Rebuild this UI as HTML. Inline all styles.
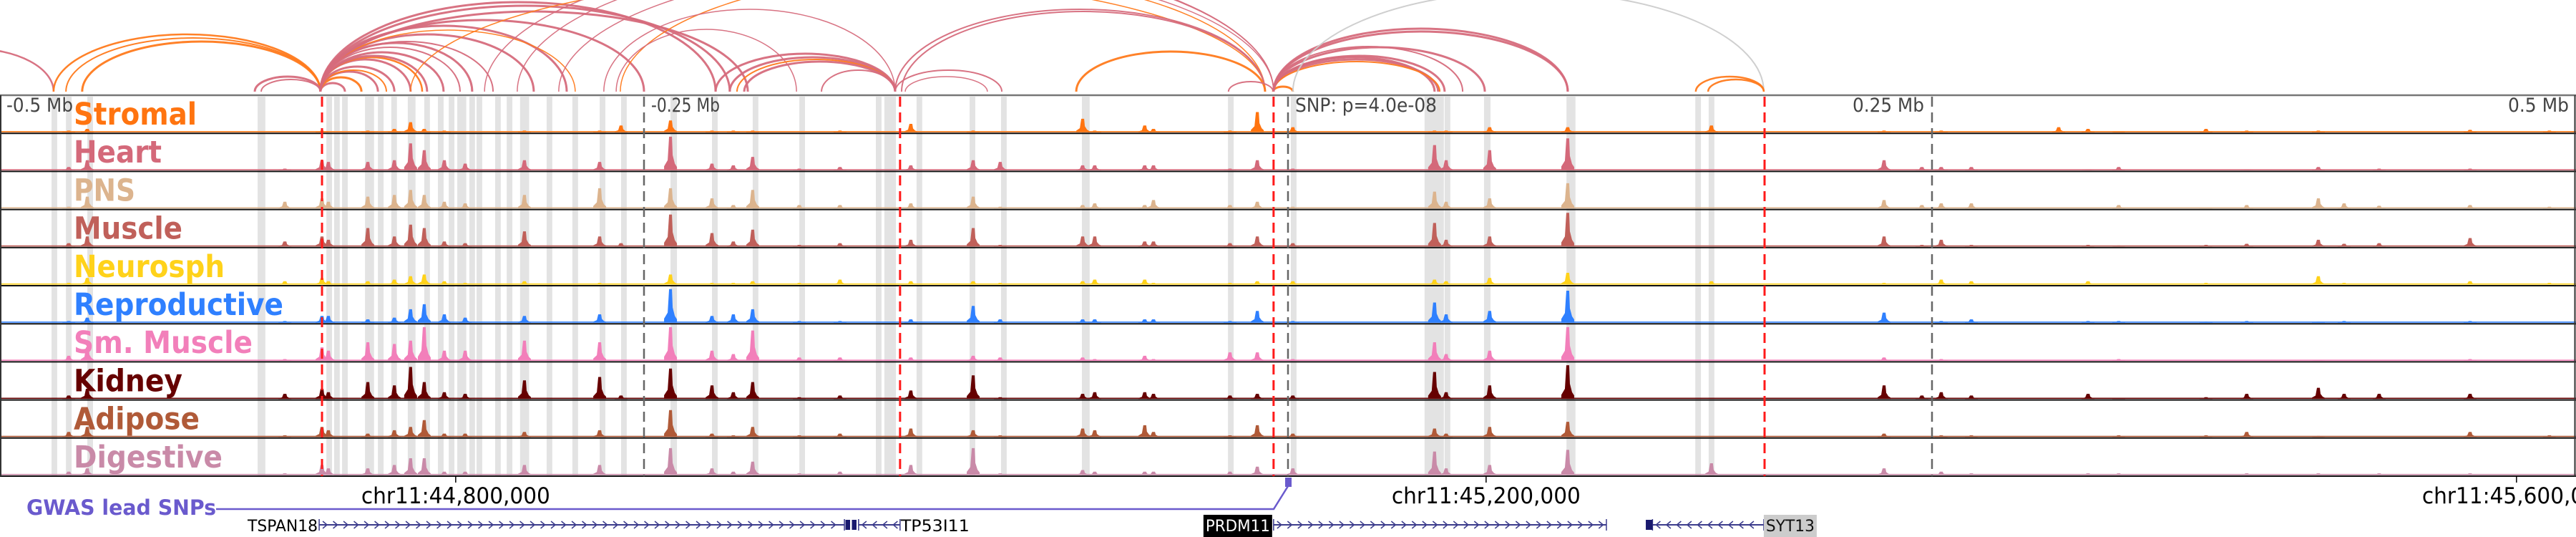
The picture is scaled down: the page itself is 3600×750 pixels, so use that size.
<!DOCTYPE html>
<html><head><meta charset="utf-8">
<style>
html,body{margin:0;padding:0;background:#fff;}
svg{display:block;}
.cond{font-family:"DejaVu Sans Condensed","DejaVu Sans","Liberation Sans",sans-serif;font-stretch:condensed;}
</style></head>
<body>
<svg id="fig" width="3600" height="750" viewBox="0 0 3600 750" xmlns="http://www.w3.org/2000/svg">
  <g id="arcs"></g>
  <g id="bands"></g>
  <g id="tracks"></g>
  <g id="vlines"></g>
  <g id="labels"></g>
  <g id="axis"></g>
  <g id="genes"></g>
</svg>
<script>
// ---------- data ----------
const trackNames = ["Stromal","Heart","PNS","Muscle","Neurosph","Reproductive","Sm. Muscle","Kidney","Adipose","Digestive"];
const trackColors = ["#ff7410","#d4697a","#dcb48e","#c0605a","#ffd21a","#2f80ff","#f27fba","#660000","#b05a38","#c98aa8"];
const labelWidths = [172,123,86,152,211,293,250,152,176,208];

// peak positions (kb from window start; window = 1 Mb, lead SNP at 500 kb)
const peakKb = [26.7,33.9,110.6,125,127.5,142.8,153.1,159.4,164.7,172.5,180.6,203.6,232.8,241.1,260.3,276.4,284.7,292.2,310.3,326.1,353.6,377.8,388.3,420.3,425,444.4,447.8,477.5,488.1,501.9,556.9,561.4,578.3,608.6,664.4,731.4,746.1,753.6,765.3,799.2,810.6,822.5,856.4,872.2,900,910,923.6,958.9,989.7];
const hStromal  = [.05,.1,0,.05,0,.05,.1,.3,.1,.05,0,.05,.05,.2,.35,.05,.05,.05,0,.05,.25,.05,0,.4,.05,.2,.1,.05,.6,.15,.05,.05,.15,.15,.2,.05,0,.05,0,.15,.1,.02,.1,.05,.05,0,0,.07,.05];
const hHeart    = [.1,.3,.05,.3,.25,.25,.3,.8,.6,.3,.2,.3,.25,0,1,.2,.15,.4,.05,.1,.15,.3,.25,.15,.15,.15,.15,.05,.3,.05,.75,.3,.6,.95,0,.3,.1,.1,.1,0,.02,.1,0,.02,.1,0,.05,.05,0];
const hPNS      = [.05,.35,.2,.3,.2,.35,.4,.55,.4,.2,.15,.4,.6,0,.6,.3,.1,.55,.1,.1,.15,.35,.05,.1,.15,.1,.25,.1,.2,.05,.5,.2,.3,.75,0,.25,.1,.15,.15,0,0,.1,.02,.1,.3,.15,.08,.1,.05];
const hMuscle   = [.1,.3,.15,.3,.2,.55,.3,.65,.55,.15,.1,.45,.3,.1,.95,.4,.15,.5,.05,.1,.2,.55,.05,.3,.3,.15,.15,.1,.3,.1,.7,.2,.3,1,0,.3,.05,.2,.05,0,.05,.03,.05,.08,.2,.08,.1,.25,0];
const hNeurosph = [.05,.2,.1,.2,.1,.1,.15,.25,.3,.1,.05,.1,.05,0,.3,.05,.05,.1,.05,.15,.1,.1,.05,.1,.15,.15,.05,.05,.1,.1,.15,.1,.2,.35,.1,.05,0,.15,.1,0,.1,.03,.05,.03,.25,.05,0,.1,.05];
const hRepro    = [.05,.15,.05,.2,.2,.1,.15,.4,.55,.25,.15,.2,.25,0,1,.2,.25,.4,.05,.05,.1,.5,.1,.1,.1,.1,.1,.05,.35,.05,.6,.25,.35,.95,0,.3,0,.05,.1,0,.05,.05,.03,.05,.03,.05,0,.05,0];
const hSmMuscle = [.15,.4,.05,.4,.3,.55,.5,.6,1,.3,.3,.6,.55,0,1,.3,.2,.9,.1,.1,.1,.15,.1,.1,.05,.15,.05,.25,.25,.05,.55,.2,.3,1,0,.1,0,.05,0,0,0,.05,0,0,.03,0,0,.05,0];
const hKidney   = [.1,.3,.15,.3,.2,.5,.4,.95,.5,.2,.15,.55,.65,.1,.9,.4,.2,.5,.05,.1,.25,.7,.05,.15,.2,.2,.15,.1,.15,.1,.8,.2,.4,1,0,.4,.1,.2,.1,0,.15,.03,.05,.15,.33,.15,.15,.15,0];
const hAdipose  = [.15,.3,.05,.3,.2,.1,.2,.3,.5,.1,.1,.15,.2,0,.8,.1,.05,.3,.05,.1,.25,.2,.05,.25,.2,.35,.15,.05,.35,.1,.25,.1,.3,.45,0,.1,0,.05,.05,0,0,.05,.05,.15,.03,0,0,.15,.05];
const hDigestive= [.1,.2,.05,.3,.2,.2,.3,.5,.5,.1,.1,.3,.3,0,.8,.2,.1,.4,.05,.1,.3,.8,.05,.15,.1,.1,.1,.1,.25,.2,.7,.2,.3,.75,.35,.2,0,.1,.05,0,.05,.05,0,.05,.05,0,.05,.05,0];
const peakHeights = [hStromal,hHeart,hPNS,hMuscle,hNeurosph,hRepro,hSmMuscle,hKidney,hAdipose,hDigestive];

// highlighted regions (kb start, kb width)
const bandKb = [20,25.6,33.9,100,126.7,129.7,132.8,141.7,146.7,151.9,158.3,164.7,170,174.2,177.5,182.2,185,192.2,196.7,201.9,212.2,222.2,232.8,241.1,260.3,276.4,292.2,310.3,340,343.3,355.8,376.4,388.6,420,476.7,501.1,553,560.8,576.1,608.1,658.1,663.3];
const bandWidthKb = [2.2,2.2,2.2,3,2.2,2.2,2.2,3.5,2.2,2.2,3,2.2,2.2,2.2,3.5,2.2,2.2,2.2,2.2,3.5,2.2,2.2,2.2,2.2,2.5,2.2,2.2,2.2,2.2,4.5,2.2,2.2,2.2,3,2.2,2.2,7.5,2.2,2.5,3.5,2.2,2.2];

// loops: anchors (kb), apex height (px units), type, weight
const arcStart = [-41.7,20.8,25.6,31.9,98.9,101.4,124.4,124.4,124.4,124.4,124.4,124.4,124.4,124.4,124.4,124.4,124.4,124.4,124.4,124.4,124.4,124.4,124.4,124.4,124.4,159.4,240.8,188.1,200.8,216.9,234.4,239.2,277.8,283.3,286.1,288.9,318.9,347.5,351.4,347.5,350,417.8,476.9,494.2,494.4,494.4,494.4,494.4,494.4,494.4,494.4,494.4,501.9,658.3,663.1];
const arcEnd   = [20.8,124.4,124.4,124.4,124.4,124.4,133.9,140.3,146.7,150,153.1,159.4,163.9,165.8,172.2,178.6,183.3,191.4,207.2,220,223.3,250,277.8,283.3,290.3,491.1,491.1,494.4,494.4,494.4,347.5,309.2,347.5,347.5,347.5,347.5,347.5,388.9,383.3,491.1,491.1,491.1,494.2,501.9,556.9,558.3,558.9,560.8,567.8,576.4,608.6,608.6,684.7,684.7,684.7];
const arcHeight= [60,80,75,70,21,17,12,20,28,30,35,45,48,50,55,62,68,70,80,92,86,100,125,120,112,160,165,195,190,175,115,87,53,48,45,42,30,30,21,115,112,56,14,7,48,45,42,50,63,62,84,88,140,21,17];
const arcType  = ["p","o","o","o","p","p","p","o","p","o","p","p","o","p","p","p","p","p","p","p","o","p","p","p","p","o","o","p","p","p","p","p","p","p","o","p","p","p","p","p","p","o","p","o","p","p","o","p","p","p","p","p","g","o","o"];
const arcWeight= [2.5,2.5,2,3,3,2,3,3,3,2,3,3,2.5,3,3,2,3,2,3,3,1.5,3,3,3,3,1.5,1.5,1.5,1.5,1.5,1.5,1.5,3,3,2,3,2,2,1.5,2,2,3,2,3,3,3,2,3,2,3,3,3,2,2.5,2.5];

// reference lines
const redLineKb = [125,349.4,494.4,685];
const greyLineKb = [250,500,750];
const scaleLabels = ["-0.5 Mb","-0.25 Mb","0.25 Mb","0.5 Mb"];
const scaleLabelKb = [0,250,750,1000];

// genomic axis
const windowStart = 44623100;
const chrTicks = [44800000,45200000,45600000];
const chrTickLabels = ["chr11:44,800,000","chr11:45,200,000","chr11:45,600,000"];

// genes
const geneNames = ["TSPAN18","TP53I11","PRDM11","SYT13"];
const geneStart = [123.9,333.3,494.4,641.5];
const geneEnd   = [327.8,349.4,623.6,684.7];
const geneStrand= ["+","-","+","-"];
const exonKb = [328.2,330.7,638.9];
const exonWidthKb = [1.8,1.8,2.6];
const snpKb = 500;

// ---------- scales ----------
const W = 3600;
const x = kb => kb * W / 1000;
const ARC_BASE = 128;
const TOP = 133, TH = 53.2, PEAK_MAX = 47;
const trackTop = i => TOP + i * TH;
const NS = "http://www.w3.org/2000/svg";
function mk(tag, attrs, parent){ const e = document.createElementNS(NS, tag); for (const k in attrs) e.setAttribute(k, attrs[k]); parent.appendChild(e); return e; }
const arcColor = {p:"#d66b7c", o:"#ff7a1c", g:"#cccccc"};

// arcs
const gA = document.getElementById("arcs");
for (let i = 0; i < arcStart.length; i++) {
  const x1 = x(arcStart[i]), x2 = x(arcEnd[i]);
  const rx = (x2 - x1) / 2, ry = arcHeight[i];
  const p = mk("path", {d:`M${x1},${ARC_BASE} A${rx},${ry} 0 0 1 ${x2},${ARC_BASE}`, fill:"none", stroke:arcColor[arcType[i]], "stroke-width":arcWeight[i], opacity:0.95}, gA);
  
  
}

// bands
const gB = document.getElementById("bands");
for (let i = 0; i < bandKb.length; i++) {
  const r = mk("rect", {x:x(bandKb[i]), y:TOP+2, width:x(bandWidthKb[i]), height:TH*10-2, fill:"#e3e3e3"}, gB);
  
  
}

// tracks
const gT = document.getElementById("tracks");
for (let t = 0; t < trackNames.length; t++) {
  const bot = trackTop(t) + TH - 1.5;
  const g = mk("g", {}, gT);
  
  
  const base = mk("rect", {x:0, y:bot-1.6, width:W, height:1.6, fill:trackColors[t]}, g);
  
  
  const hs = peakHeights[t];
  for (let i = 0; i < peakKb.length; i++) {
    if (!hs[i]) continue;
    const px = x(peakKb[i]), h = hs[i] * PEAK_MAX;
    const pts = [[px-9,bot],[px-9,bot-0.12*h],[px-4,bot-0.3*h],[px-2,bot-h],[px+2,bot-h],[px+3,bot-0.45*h],[px+6,bot-0.2*h],[px+9,bot-0.1*h],[px+9,bot]];
    const pk = mk("polygon", {points:pts.map(q=>q.join(",")).join(" "), fill:trackColors[t]}, g);
    
    
  }
  const sep = mk("line", {x1:0, x2:W, y1:trackTop(t)+TH, y2:trackTop(t)+TH, stroke:"#111", "stroke-width":2}, g);
  
  
}
// frame
const frTop = mk("line", {x1:0,x2:W,y1:TOP,y2:TOP,stroke:"#777","stroke-width":2.5}, gT);


const frL = mk("line", {x1:1,x2:1,y1:TOP,y2:TOP+TH*10,stroke:"#333","stroke-width":2}, gT);


const frR = mk("line", {x1:W-1.5,x2:W-1.5,y1:TOP,y2:TOP+TH*10,stroke:"#333","stroke-width":2}, gT);



// reference lines
const gV = document.getElementById("vlines");
for (const k of greyLineKb) {
  const l = mk("line", {x1:x(k),x2:x(k),y1:TOP+2,y2:TOP+TH*10,stroke:"#666","stroke-width":2.5,"stroke-dasharray":"14 8"}, gV);
  
  
}
for (const k of redLineKb) {
  const l = mk("line", {x1:x(k),x2:x(k),y1:TOP+2,y2:TOP+TH*10,stroke:"#ff1a1a","stroke-width":3,"stroke-dasharray":"14 8"}, gV);
  
  
}

// labels
const gL = document.getElementById("labels");
for (let t = 0; t < trackNames.length; t++) {
  const tx = mk("text", {x:103, y:trackTop(t)+41, fill:trackColors[t], "font-size":43, "font-weight":"bold", class:"cond", textLength:labelWidths[t], lengthAdjust:"spacingAndGlyphs"}, gL);
  tx.textContent = trackNames[t];
  
  
}
const scaleW = [93,96,100,85];
for (let i = 0; i < scaleLabels.length; i++) {
  const anchor = i <= 1 ? "start" : "end";
  const xx = i === 0 ? 9 : (i === 1 ? x(scaleLabelKb[i]) + 10 : (i === 2 ? x(scaleLabelKb[i]) - 11 : W - 10));
  const tx = mk("text", {x:xx, y:156, fill:"#444", "font-size":27, class:"cond", "text-anchor":anchor, textLength:scaleW[i], lengthAdjust:"spacingAndGlyphs"}, gL);
  tx.textContent = scaleLabels[i];
  
  
}
const snpT = mk("text", {x:1810, y:156, fill:"#444", "font-size":27, class:"cond", textLength:198, lengthAdjust:"spacingAndGlyphs"}, gL);
snpT.textContent = "SNP: p=4.0e-08";



// axis
const gX = document.getElementById("axis");
for (let i = 0; i < chrTicks.length; i++) {
  const px = x((chrTicks[i] - windowStart) / 1000);
  const tk = mk("line", {x1:px,x2:px,y1:TOP+TH*10,y2:TOP+TH*10+9,stroke:"#000","stroke-width":1.5}, gX);
  
  
  const tx = mk("text", {x:px, y:703, fill:"#000", "font-size":31, class:"cond", "text-anchor":"middle", textLength:264, lengthAdjust:"spacingAndGlyphs"}, gX);
  tx.textContent = chrTickLabels[i];
  
  
}

// GWAS lead SNP row
const gG = document.getElementById("genes");
const gw = mk("text", {x:37, y:719, fill:"#6a5acd", "font-size":29, "font-weight":"bold", class:"cond", textLength:265, lengthAdjust:"spacingAndGlyphs"}, gG);
gw.textContent = "GWAS lead SNPs";


const snpX = x(snpKb);
const gl = mk("polyline", {points:`302,711 ${snpX-20},711 ${snpX},679`, fill:"none", stroke:"#6a5acd", "stroke-width":2.5}, gG);


const sm = mk("rect", {x:snpX-4, y:667, width:9, height:13, fill:"#6a5acd"}, gG);



// genes
const GY = 733, navy = "#3c3c8c";
for (let i = 0; i < geneNames.length; i++) {
  const x1 = x(geneStart[i]), x2 = x(geneEnd[i]);
  const g = mk("g", {}, gG);
  
  
  const ln = mk("line", {x1:x1,x2:x2,y1:GY,y2:GY,stroke:navy,"stroke-width":2}, g);
  
  
  let d = "";
  for (let cx = x1 + 8; cx < x2 - 4; cx += 14.5) {
    d += geneStrand[i] === "+" ? `M${cx-3},${GY-5} L${cx+3},${GY} L${cx-3},${GY+5} ` : `M${cx+3},${GY-5} L${cx-3},${GY} L${cx+3},${GY+5} `;
  }
  const ch = mk("path", {d:d, fill:"none", stroke:navy, "stroke-width":1.5}, g);
  
  
  const ends = mk("path", {d:`M${x1},${GY-8} V${GY+8} M${x2},${GY-8} V${GY+8}`, stroke:navy, "stroke-width":1.5}, g);
  
  
}
for (let i = 0; i < exonKb.length; i++) {
  const ex = mk("rect", {x:x(exonKb[i]), y:GY-7, width:x(exonWidthKb[i]), height:14, fill:"#1a1a6e"}, gG);
  
  
}
// gene labels
const t1 = mk("text", {x:x(geneStart[0])-2, y:742, "font-size":22, class:"cond", "text-anchor":"end", textLength:98, lengthAdjust:"spacingAndGlyphs"}, gG);
t1.textContent = geneNames[0];


const t2 = mk("text", {x:x(geneEnd[1])+1, y:742, "font-size":22, class:"cond", textLength:96, lengthAdjust:"spacingAndGlyphs"}, gG);
t2.textContent = geneNames[1];


const b3 = mk("rect", {x:x(geneStart[2])-98, y:719, width:96, height:31, fill:"#000"}, gG);


const t3 = mk("text", {x:x(geneStart[2])-50, y:742, "font-size":22, fill:"#fff", class:"cond", "text-anchor":"middle", textLength:90, lengthAdjust:"spacingAndGlyphs"}, gG);
t3.textContent = geneNames[2];


const b4 = mk("rect", {x:x(geneEnd[3]), y:719, width:74, height:31, fill:"#cccccc"}, gG);


const t4 = mk("text", {x:x(geneEnd[3])+37, y:742, "font-size":22, fill:"#111", class:"cond", "text-anchor":"middle", textLength:68, lengthAdjust:"spacingAndGlyphs"}, gG);
t4.textContent = geneNames[3];


</script>
</body></html>
